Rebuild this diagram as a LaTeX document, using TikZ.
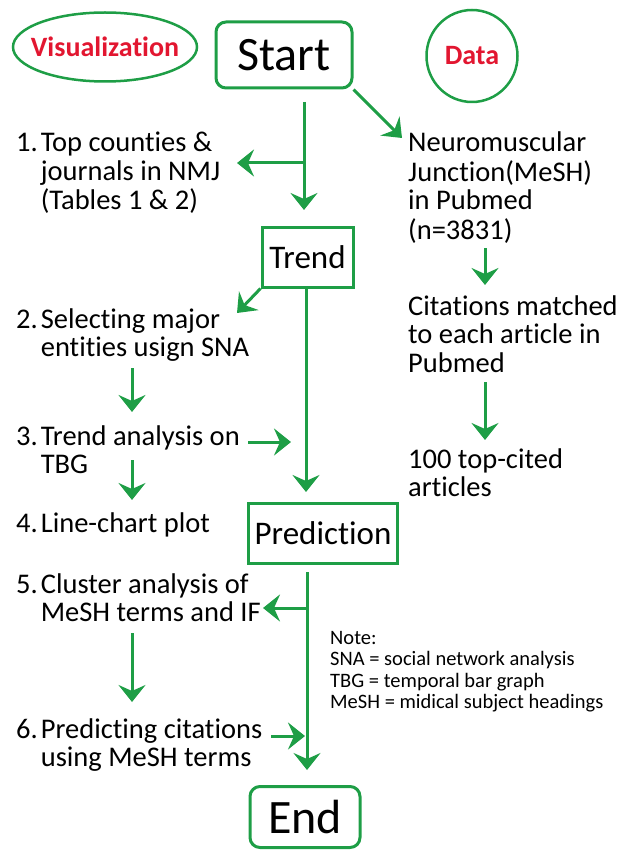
\documentclass[tikz,border=0pt]{standalone}
\usepackage{fontspec}
\setmainfont{Carlito}[Ligatures=NoCommon]
\usetikzlibrary{arrows.meta,positioning,shapes.geometric}
\definecolor{flowgreen}{RGB}{30,158,70}
\definecolor{labelred}{RGB}{226,22,48}
\newcommand{\numlines}[2]{\begin{tabular}[t]{@{}l@{\hspace{3pt}}l@{}}#1&\begin{tabular}[t]{@{}l@{}}#2\end{tabular}\end{tabular}}

\begin{document}
\begin{tikzpicture}[x=1pt, y=-1pt,
    tag/.style={draw=flowgreen, line width=2.5pt, ellipse, inner sep=0pt,
                text=labelred, font=\fontsize{28}{28}\selectfont\bfseries},
    term/.style={draw=flowgreen, line width=3pt, rounded corners=10pt,
                 inner sep=0pt, font=\fontsize{48}{48}\selectfont},
    stage/.style={draw=flowgreen, line width=3pt, inner sep=0pt,
                  font=\fontsize{33}{33}\selectfont},
    txt/.style={anchor=base west, inner sep=0pt,
                font=\fontsize{28.5}{28.5}\selectfont},
    note/.style={anchor=base west, inner sep=0pt,
                 font=\fontsize{20.5}{21.5}\selectfont},
    arr/.style={draw=flowgreen, line width=3pt,
                -{Stealth[length=17pt, width=27pt, inset=6pt]}},
    link/.style={draw=flowgreen, line width=3pt}
  ]
    \useasboundingbox (0,0) rectangle (625,850);
    % headers
    \node[tag, inner xsep=-10pt, minimum width=184pt, minimum height=69pt] (vis) at (105,47) {Visualization};
    \node[term, minimum width=136pt, minimum height=66pt] (start) at (284,55) {Start};
    \node[tag, minimum width=91pt, minimum height=92pt] (data) at (472,56) {Data};
    % stage boxes
    \node[stage, minimum width=91pt, minimum height=60pt] (trend) at (307.5,257) {Trend};
    \node[stage, minimum width=149pt, minimum height=60pt] (pred) at (323,533) {Prediction};
    \node[term, minimum width=110pt, minimum height=61pt] (end) at (305,817) {End};
    % visualization steps
    \node[txt] (s1) at (16,152) {\numlines{1.}{Top counties \&\\journals in NMJ\\(Tables 1 \& 2)}};
    \node[txt] (s2) at (16,328) {\numlines{2.}{Selecting major\\entities usign SNA}};
    \node[txt] (s3) at (16,445) {\numlines{3.}{Trend analysis on\\TBG}};
    \node[txt] (s4) at (16,532) {\numlines{4.}{Line-chart plot}};
    \node[txt] (s5) at (16,593) {\numlines{5.}{Cluster analysis of\\MeSH terms and IF}};
    \node[txt] (s6) at (16,738) {\numlines{6.}{Predicting citations\\using MeSH terms}};
    % data steps
    \node[txt] (d1) at (408,152) {\begin{tabular}[t]{@{}l@{}}Neuromuscular\\Junction(MeSH)\\in Pubmed\\(n=3831)\end{tabular}};
    \node[txt] (d2) at (408,315) {\begin{tabular}[t]{@{}l@{}}Citations matched\\to each article in\\Pubmed\end{tabular}};
    \node[txt] (d3) at (408,468) {\begin{tabular}[t]{@{}l@{}}100 top-cited\\articles\end{tabular}};
    \node[note] (abbr) at (330,644) {\begin{tabular}[t]{@{}l@{}}Note:\\SNA = social network analysis\\TBG = temporal bar graph\\MeSH = midical subject headings\end{tabular}};
    % connector ends
    \coordinate (m1a) at (304,102);
    \coordinate (m1b) at (304,210);
    \coordinate (j1) at (304,163);
    \coordinate (t1) at (237,163);
    \coordinate (tdata) at (402,138);
    \coordinate (t2) at (237,313);
    \coordinate (m2b) at (306,492);
    \coordinate (a2a) at (132,368);
    \coordinate (a2b) at (132,412);
    \coordinate (a3a) at (248,442);
    \coordinate (a3b) at (291,442);
    \coordinate (a4a) at (132,460);
    \coordinate (a4b) at (132,500);
    \coordinate (m3a) at (307,572);
    \coordinate (m3b) at (307,770);
    \coordinate (j5) at (307,608);
    \coordinate (t5) at (263,608);
    \coordinate (a6a) at (132,633);
    \coordinate (a6b) at (132,702);
    \coordinate (a7a) at (271,736);
    \coordinate (a7b) at (305,736);
    \coordinate (b1a) at (485,248);
    \coordinate (b1b) at (485,285);
    \coordinate (b2a) at (485,382);
    \coordinate (b2b) at (485,440);
    % connectors
    \draw[arr] (m1a) -- (m1b);
    \draw[arr] (j1) -- (t1);
    \draw[arr] (start.south east) -- (tdata);
    \draw[arr] (trend.south west) -- (t2);
    \draw[arr] (trend.south -| m2b) -- (m2b);
    \foreach \a/\b in {a2a/a2b, a3a/a3b, a4a/a4b, m3a/m3b, j5/t5,
                       a6a/a6b, a7a/a7b, b1a/b1b, b2a/b2b}
      \draw[arr] (\a) -- (\b);
\end{tikzpicture}
\end{document}
